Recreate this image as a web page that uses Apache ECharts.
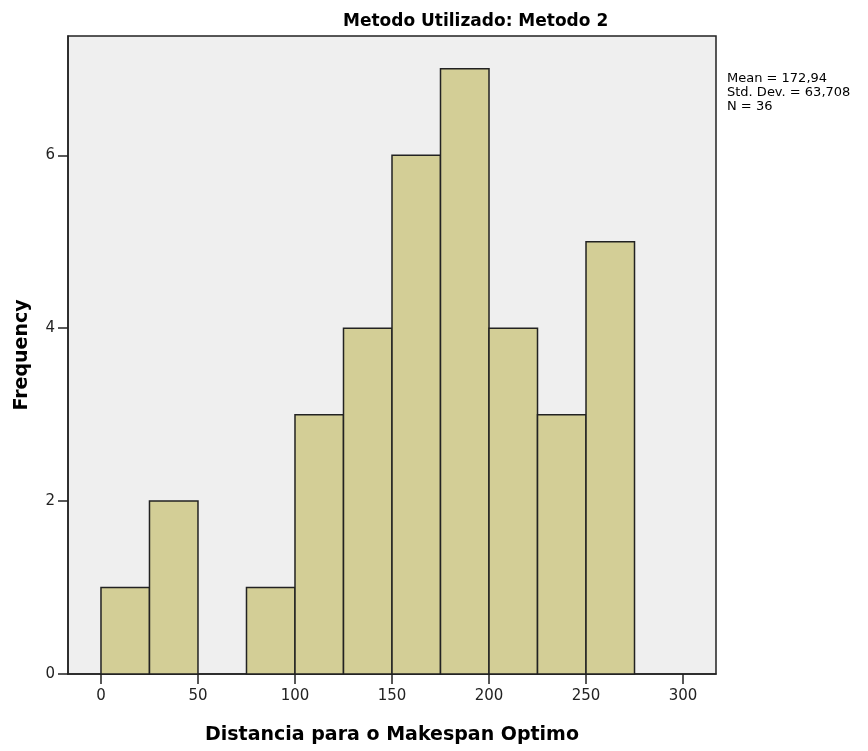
<!DOCTYPE html>
<html>
<head>
<meta charset="utf-8">
<script src="https://cdn.jsdelivr.net/npm/echarts@6/dist/echarts.min.js"></script>
<style>
  html, body { margin: 0; padding: 0; background: #fff; }
  #main { width: 868px; height: 751px; }
</style>
</head>
<body>
<div id="main"></div>
<script>
  // bins of 25 wide, counts
  var binStart = [0, 25, 50, 75, 100, 125, 150, 175, 200, 225, 250]
  var binWidth = 25
  var counts = [1, 2, 0, 1, 3, 4, 6, 7, 4, 3, 5]
  var xTicks = [0, 50, 100, 150, 200, 250, 300]
  var yTicks = [0, 2, 4, 6]
  var statLines = ['Mean = 172,94', 'Std. Dev. = 63,708', 'N = 36']

  var chart = echarts.init(document.getElementById('main'))
  var font = 'DejaVu Sans, Verdana, sans-serif'

  var data = binStart.map(function (s, i) {
    return [s, s + binWidth, counts[i]]
  })

  var option = {
    animation: false,
    textStyle: { fontFamily: font },
    title: {
      text: 'Metodo Utilizado: Metodo 2',
      left: 338,
      top: 8,
      textStyle: { fontSize: 17, fontWeight: 'bold', color: '#000', fontFamily: font }
    },
    grid: {
      left: 68, right: 152, top: 36, bottom: 77,
      outerBoundsMode: 'none',
      show: true,
      backgroundColor: '#efefef',
      borderColor: '#222',
      borderWidth: 1.5
    },
    xAxis: {
      type: 'value',
      min: -17,
      max: 317,
      name: 'Distancia para o Makespan Optimo',
      nameLocation: 'middle',
      nameGap: 52,
      nameTextStyle: { fontSize: 19, fontWeight: 'bold', color: '#000' },
      axisLine: { lineStyle: { color: '#222', width: 1.5 } },
      axisTick: { length: 10, lineStyle: { color: '#222', width: 1.5 }, customValues: xTicks },
      axisLabel: { fontSize: 15, color: '#222', margin: 15, customValues: xTicks },
      splitLine: { show: false }
    },
    yAxis: {
      type: 'value',
      min: 0,
      max: 7.38,
      name: 'Frequency',
      nameLocation: 'middle',
      nameGap: 36,
      nameTextStyle: { fontSize: 19, fontWeight: 'bold', color: '#000' },
      axisLine: { show: true, onZero: false, lineStyle: { color: '#222', width: 1.5 } },
      axisTick: { show: true, length: 10, lineStyle: { color: '#222', width: 1.5 }, customValues: yTicks },
      axisLabel: { fontSize: 15, color: '#222', margin: 13, customValues: yTicks },
      splitLine: { show: false }
    },
    series: [{
      type: 'custom',
      data: data,
      encode: { x: [0, 1], y: 2 },
      renderItem: function (params, api) {
        var p0 = api.coord([api.value(0), 0])
        var p1 = api.coord([api.value(1), api.value(2)])
        if (api.value(2) === 0) return null
        return {
          type: 'rect',
          shape: { x: p0[0], y: p1[1], width: p1[0] - p0[0], height: p0[1] - p1[1] },
          style: { fill: '#d3ce96', stroke: '#222', lineWidth: 1.5 }
        }
      }
    }],
    graphic: [{
      type: 'text',
      left: 727,
      top: 72,
      style: {
        text: statLines.join('\n'),
        fontSize: 13,
        lineHeight: 14,
        fill: '#000',
        fontFamily: font
      }
    }]
  }

  chart.setOption(option)
</script>
</body>
</html>
